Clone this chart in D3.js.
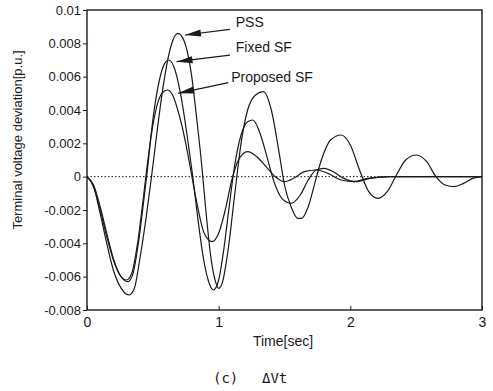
<!DOCTYPE html>
<html>
<head>
<meta charset="utf-8">
<script src="https://cdn.jsdelivr.net/npm/d3@7"></script>
<style>
  body { margin: 0; background: #fff; }
  svg { display: block; font-family: "Liberation Sans", Arial, sans-serif; }
</style>
</head>
<body>
<div id="visual"></div>
<script>
// time [sec] and terminal voltage deviation [p.u.]
const pssT = [0, 0.05, 0.1, 0.15, 0.2, 0.26, 0.32, 0.36, 0.4, 0.45, 0.49, 0.54, 0.59, 0.64, 0.69, 0.74, 0.79, 0.84, 0.87, 0.9, 0.94, 0.98, 1.0, 1.03, 1.07, 1.12, 1.17, 1.22, 1.28, 1.34, 1.4, 1.46, 1.5, 1.55, 1.6, 1.63, 1.68, 1.73, 1.78, 1.85, 1.93, 2.0, 2.07, 2.14, 2.21, 2.28, 2.35, 2.42, 2.5, 2.58, 2.65, 2.72, 2.79, 2.86, 2.93, 3.0];
const pssV = [0, -0.0006, -0.0022, -0.004, -0.0056, -0.0067, -0.0071, -0.0067, -0.005, -0.0024, 0, 0.0032, 0.006, 0.0079, 0.0086, 0.0081, 0.0063, 0.003, 0.0008, -0.0018, -0.0048, -0.0064, -0.0067, -0.0063, -0.0045, -0.0012, 0.002, 0.004, 0.0049, 0.0051, 0.004, 0.0014, -0.0005, -0.0018, -0.0025, -0.0025, -0.0018, -0.0004, 0.001, 0.0022, 0.0025, 0.0019, 0.0004, -0.0009, -0.0013, -0.0009, 0.0001, 0.001, 0.0013, 0.0009, 0, -0.0005, -0.0006, -0.0004, -0.0001, 0];

const fixedT = [0, 0.05, 0.1, 0.15, 0.2, 0.25, 0.31, 0.35, 0.39, 0.43, 0.46, 0.5, 0.55, 0.59, 0.62, 0.66, 0.71, 0.76, 0.8, 0.84, 0.88, 0.92, 0.96, 1.0, 1.04, 1.08, 1.12, 1.17, 1.22, 1.26, 1.31, 1.37, 1.42, 1.48, 1.55, 1.62, 1.68, 1.74, 1.8, 1.87, 1.95, 2.05, 2.15, 2.3, 3.0];
const fixedV = [0, -0.0005, -0.0018, -0.0034, -0.0049, -0.0059, -0.0063, -0.0058, -0.004, -0.0015, 0.0005, 0.0034, 0.0058, 0.0068, 0.007, 0.0066, 0.005, 0.0025, 0.0002, -0.0024, -0.0047, -0.0062, -0.0068, -0.0062, -0.0043, -0.0018, 0.0006, 0.0025, 0.0033, 0.0034, 0.0027, 0.0011, -0.0003, -0.0013, -0.0016, -0.0011, -0.0002, 0.0004, 0.0005, 0.0003, -0.0001, -0.0003, -0.0001, 0, 0];

const propT = [0, 0.05, 0.1, 0.15, 0.2, 0.25, 0.3, 0.34, 0.38, 0.42, 0.45, 0.49, 0.54, 0.58, 0.61, 0.65, 0.7, 0.75, 0.79, 0.84, 0.89, 0.95, 1.0, 1.05, 1.1, 1.15, 1.22, 1.29, 1.36, 1.43, 1.5, 1.57, 1.65, 1.74, 1.83, 1.93, 2.03, 2.13, 2.3, 3.0];
const propV = [0, -0.0006, -0.002, -0.0036, -0.005, -0.0059, -0.0062, -0.0058, -0.0042, -0.0018, 0.0002, 0.0026, 0.0045, 0.0051, 0.0052, 0.0049, 0.0037, 0.002, 0.0003, -0.0018, -0.0034, -0.0039, -0.0034, -0.002, -0.0002, 0.001, 0.0015, 0.0012, 0.0006, 0, -0.0003, -0.0001, 0.0003, 0.0004, 0.0002, -0.0002, -0.0003, -0.0001, 0, 0];

const xTicks = [0, 1, 2, 3];
const yTicks = [0.01, 0.008, 0.006, 0.004, 0.002, 0, -0.002, -0.004, -0.006, -0.008];
const yTickLabels = ["0.01", "0.008", "0.006", "0.004", "0.002", "0", "-0.002", "-0.004", "-0.006", "-0.008"];

// annotation labels with arrow tail and tip (in data units)
const annLabels = ["PSS", "Fixed SF", "Proposed SF"];
const annTail = [[1.086, 0.00884], [1.086, 0.00729], [1.073, 0.00564]];
const annTip = [[0.744, 0.0085], [0.68, 0.00690], [0.692, 0.00500]];
const annText = [[1.13, 0.00900], [1.13, 0.00750], [1.095, 0.00570]];

const width = 493, height = 391;
const margin = {top: 10, right: 11, bottom: 81, left: 87};

const svg = d3.select("#visual").append("svg")
    .attr("width", width)
    .attr("height", height);

const x = d3.scaleLinear().domain([0, 3]).range([margin.left, width - margin.right]);
const y = d3.scaleLinear().domain([-0.008, 0.01]).range([height - margin.bottom, margin.top]);

const ink = "#1a1a1a";

// zero line (dotted)
svg.append("line")
    .attr("x1", x(0)).attr("x2", x(3))
    .attr("y1", y(0)).attr("y2", y(0))
    .attr("stroke", ink).attr("stroke-width", 1)
    .attr("stroke-dasharray", "1.5,2");

// curves
const line = d3.line().x(d => x(d[0])).y(d => y(d[1])).curve(d3.curveMonotoneX);
const series = [
    [pssT, pssV],
    [fixedT, fixedV],
    [propT, propV]
];
series.forEach(s => {
    svg.append("path")
        .datum(s[0].map((t, i) => [t, s[1][i]]))
        .attr("d", line)
        .attr("fill", "none")
        .attr("stroke", ink)
        .attr("stroke-width", 1.2);
});

// frame
svg.append("rect")
    .attr("x", x(0)).attr("y", y(0.01))
    .attr("width", x(3) - x(0)).attr("height", y(-0.008) - y(0.01))
    .attr("fill", "none").attr("stroke", ink).attr("stroke-width", 1.4);

// y axis
const yAxis = d3.axisLeft(y)
    .tickValues(yTicks)
    .tickFormat((d, i) => yTickLabels[i])
    .tickSize(4).tickPadding(2);
const gy = svg.append("g").attr("transform", `translate(${x(0)},0)`).call(yAxis);
gy.select(".domain").remove();
gy.selectAll("line").attr("stroke", ink);
gy.selectAll("text").attr("font-size", 13).attr("fill", ink)
    .attr("font-family", "'Liberation Sans', Arial, sans-serif");

// x axis
const xAxis = d3.axisBottom(x)
    .tickValues(xTicks)
    .tickFormat(d3.format("d"))
    .tickSize(-4).tickPadding(7);
const gx = svg.append("g").attr("transform", `translate(0,${y(-0.008)})`).call(xAxis);
gx.select(".domain").remove();
gx.selectAll("line").attr("stroke", ink);
gx.selectAll("text").attr("font-size", 14).attr("fill", ink)
    .attr("font-family", "'Liberation Sans', Arial, sans-serif");

// axis titles
svg.append("text")
    .attr("transform", `translate(22,${(y(0.01) + y(-0.008)) / 2 - 20}) rotate(-90)`)
    .attr("text-anchor", "middle")
    .attr("font-size", 13).attr("fill", ink)
    .text("Terminal voltage deviation[p.u.]");

svg.append("text")
    .attr("x", 283).attr("y", 346)
    .attr("text-anchor", "middle")
    .attr("font-size", 14).attr("fill", ink)
    .text("Time[sec]");

// caption
svg.append("text")
    .attr("x", 213).attr("y", 383)
    .attr("font-size", 14).attr("fill", ink)
    .attr("font-family", "'DejaVu Sans Mono', monospace")
    .text("(c)");
svg.append("text")
    .attr("x", 262).attr("y", 383)
    .attr("font-size", 14).attr("fill", ink)
    .attr("font-family", "'DejaVu Sans Mono', monospace")
    .text("ΔVt");

// annotations with filled arrowheads
annLabels.forEach((lab, i) => {
    const x1 = x(annTail[i][0]), y1 = y(annTail[i][1]);
    const x2 = x(annTip[i][0]), y2 = y(annTip[i][1]);
    svg.append("line")
        .attr("x1", x1).attr("y1", y1).attr("x2", x2).attr("y2", y2)
        .attr("stroke", ink).attr("stroke-width", 1.2);
    const ang = Math.atan2(y1 - y2, x1 - x2);
    const len = 16, half = 3.5;
    const bx = x2 + len * Math.cos(ang), by = y2 + len * Math.sin(ang);
    const px = -Math.sin(ang) * half, py = Math.cos(ang) * half;
    svg.append("path")
        .attr("d", `M${x2},${y2}L${bx + px},${by + py}L${bx - px},${by - py}Z`)
        .attr("fill", ink);
    svg.append("text")
        .attr("x", x(annText[i][0])).attr("y", y(annText[i][1]))
        .attr("font-size", 14).attr("fill", ink)
        .text(lab);
});
</script>
</body>
</html>
